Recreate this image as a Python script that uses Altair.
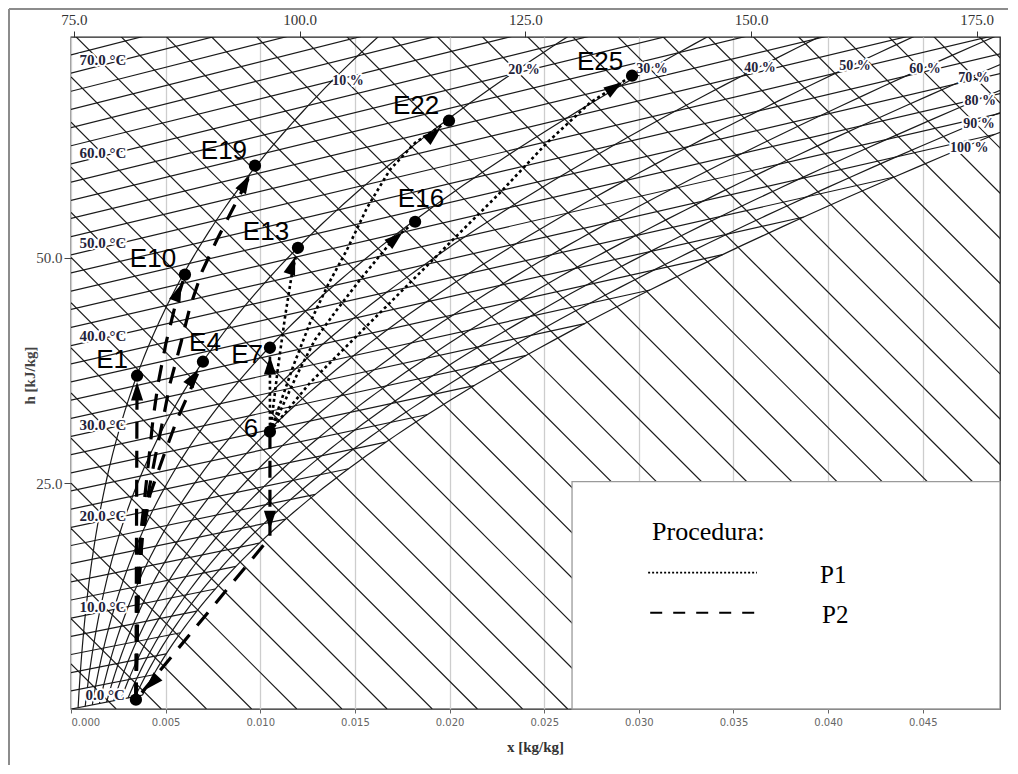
import math
import altair as alt
import pandas as pd

# ---------------- axis ranges / ticks ----------------
X_MAX = 0.04908                 # kg/kg at the right edge
Y_MAX = 74.42                   # kJ/kg at the top edge (left scale)
TOP_H = [74.67, 177.58]         # enthalpy scale along the top edge
X_TICKS = [0.0, 0.005, 0.010, 0.015, 0.020, 0.025, 0.030, 0.035, 0.040, 0.045]
Y_TICKS = [25.0, 50.0]
TOP_TICKS = [75.0, 100.0, 125.0, 150.0, 175.0]

# ---------------- h-x (Mollier) grid definition ----------------
K_SKEW = 2096.0                 # skew of the oblique enthalpy axis
P_ATM = 101.325
ISOTHERMS_C = list(range(0, 76, 2))
ISENTHALPS = list(range(5, 180, 5))
RH_LEVELS = [0.1, 0.2, 0.3, 0.4, 0.5, 0.6, 0.7, 0.8, 0.9, 1.0]

ISO_LABELS = ["70.0 °C", "60.0 °C", "50.0 °C", "40.0 °C", "30.0 °C", "20.0 °C", "10.0 °C", "0.0 °C"]
ISO_LABEL_X = [0.00169, 0.00169, 0.00169, 0.00169, 0.00169, 0.00169, 0.00169, 0.00180]
ISO_LABEL_Y = [71.9, 61.6, 51.63, 41.34, 31.49, 21.4, 11.33, 1.58]

RH_LABELS = ["10 %", "20 %", "30 %", "40 %", "50 %", "60 %", "70 %", "80 %", "90 %", "100 %"]
RH_LABEL_X = [0.01464, 0.02393, 0.0307, 0.0364, 0.04142, 0.04512, 0.04771, 0.04803, 0.04797, 0.04745]
RH_LABEL_Y = [69.57, 70.8, 70.91, 71.02, 71.24, 70.91, 69.91, 67.35, 64.81, 62.15]

# ---------------- state points ----------------
PT_NAMES = ["6", "E1", "E4", "E7", "E10", "E13", "E16", "E19", "E22", "E25", ""]
PT_X = [0.01051, 0.00349, 0.00697, 0.01051, 0.00602, 0.01199, 0.01818, 0.00972, 0.01997, 0.02964, 0.00343]
PT_Y = [30.71, 36.91, 38.46, 40.01, 48.1, 51.08, 53.96, 60.17, 65.15, 70.13, 1.03]
NAME_X = [0.00951, 0.00217, 0.00708, 0.0093, 0.00433, 0.0103, 0.01849, 0.00808, 0.01823, 0.02795]
NAME_Y = [31.04, 38.69, 40.56, 39.24, 49.87, 52.85, 56.5, 61.83, 66.8, 71.7]

# ---------------- process paths: P1 (dotted) ----------------
P1_E7_X = [0.01051, 0.01051]
P1_E7_Y = [30.71, 40.01]
P1_E13_X = [0.01051, 0.01062, 0.01094, 0.01131, 0.01168, 0.01199]
P1_E13_Y = [30.71, 32.37, 37.91, 43.44, 48.32, 51.08]
P1_E16_X = [0.01051, 0.01104, 0.01194, 0.01289, 0.01405, 0.01527, 0.01701, 0.01818]
P1_E16_Y = [30.71, 32.92, 37.02, 40.89, 44.22, 47.54, 51.97, 53.96]
P1_E22_X = [0.01051, 0.01094, 0.01173, 0.01263, 0.01358, 0.01458, 0.01564, 0.01685, 0.01818, 0.01997]
P1_E22_Y = [30.71, 33.15, 37.91, 42.78, 46.99, 50.86, 55.51, 59.72, 62.71, 65.15]
P1_E25_X = [0.01051, 0.01088, 0.01263, 0.0149, 0.01738, 0.02002, 0.02267, 0.02515, 0.02742, 0.02964]
P1_E25_Y = [30.71, 31.7, 36.13, 40.89, 46.1, 51.64, 57.18, 62.71, 67.14, 70.13]

# ---------------- process paths: P2 (dashed) ----------------
P2_COOL_X = [0.01051, 0.01051, 0.00343]
P2_COOL_Y = [30.71, 19.0, 1.03]
P2_E1_X = [0.00343, 0.00349]
P2_E1_Y = [1.03, 36.91]
P2_E4_X = [0.00343, 0.00354, 0.00375, 0.00417, 0.00486, 0.0056, 0.00697]
P2_E4_Y = [1.03, 12.1, 18.75, 23.73, 27.83, 32.04, 38.46]
P2_E10_X = [0.00343, 0.00349, 0.00365, 0.00391, 0.00412, 0.00433, 0.0046, 0.00502, 0.00549, 0.00602]
P2_E10_Y = [1.03, 12.1, 18.75, 23.73, 27.83, 32.04, 36.02, 40.56, 44.55, 48.1]
P2_E19_X = [0.00343, 0.00354, 0.00375, 0.00407, 0.00444, 0.00486, 0.00523, 0.00581, 0.00629,
            0.00692, 0.00771, 0.00861, 0.00972]
P2_E19_Y = [1.03, 12.1, 18.75, 23.73, 27.83, 32.04, 36.02, 40.56, 44.55, 48.43, 51.97, 55.65, 60.17]

# ---------------- arrow heads (position, and the point they aim at) ----------------
ARROW_X = [0.01051, 0.00428, 0.00349, 0.00645, 0.00565, 0.00919, 0.01051, 0.01168, 0.01712, 0.01913, 0.02869]
ARROW_Y = [20.97, 2.91, 35.14, 36.69, 46.1, 58.18, 38.02, 49.09, 52.08, 63.6, 68.8]
AIM_X = [0.01051, 0.00343, 0.00349, 0.00697, 0.00602, 0.00972, 0.01051, 0.01199, 0.01818, 0.01997, 0.02964]
AIM_Y = [19.0, 1.03, 36.91, 38.46, 48.1, 60.17, 40.01, 51.08, 53.96, 65.15, 70.13]

# ---------------- legend box ----------------
LEGEND_TITLE = "Procedura:"
LEGEND_NAMES = ["P1", "P2"]

# ================= layout =================
PLOT_W, PLOT_H = 929, 672
PX_X = PLOT_W / X_MAX
PX_Y = PLOT_H / Y_MAX


def p_sat(t):
    return 0.61094 * math.exp(17.625 * t / (t + 243.04))


def x_of(t, phi=1.0):
    pv = phi * p_sat(t)
    return 0.622 * pv / (P_ATM - pv)


def y_skew(t, x):
    return 1.006 * t + x * (2501.0 + 1.86 * t) - K_SKEW * x


grid = []
gid = 0
for t in ISOTHERMS_C:
    xs = min(x_of(t), 0.1)
    grid += [dict(g=gid, i=0, x=0.0, y=y_skew(t, 0.0)), dict(g=gid, i=1, x=xs, y=y_skew(t, xs))]
    gid += 1
for h in ISENTHALPS:
    grid += [dict(g=gid, i=0, x=0.0, y=float(h)), dict(g=gid, i=1, x=h / K_SKEW, y=0.0)]
    gid += 1
for phi in RH_LEVELS:
    i = 0
    t = 0.0
    while t <= 100:
        xv = x_of(t, phi)
        yv = y_skew(t, xv)
        grid.append(dict(g=gid, i=i, x=xv, y=yv))
        i += 1
        if xv > X_MAX + 0.002 or yv > Y_MAX + 3:
            break
        t += 0.5
    gid += 1
grid_df = pd.DataFrame(grid)


def path_rows(name, xs, ys):
    return [dict(p=name, i=i, x=a, y=b) for i, (a, b) in enumerate(zip(xs, ys))]


p1_df = pd.DataFrame(
    path_rows("E7", P1_E7_X, P1_E7_Y) + path_rows("E13", P1_E13_X, P1_E13_Y)
    + path_rows("E16", P1_E16_X, P1_E16_Y) + path_rows("E22", P1_E22_X, P1_E22_Y)
    + path_rows("E25", P1_E25_X, P1_E25_Y))
p2_df = pd.DataFrame(
    path_rows("cool", P2_COOL_X, P2_COOL_Y) + path_rows("E1", P2_E1_X, P2_E1_Y)
    + path_rows("E4", P2_E4_X, P2_E4_Y) + path_rows("E10", P2_E10_X, P2_E10_Y)
    + path_rows("E19", P2_E19_X, P2_E19_Y))

arrows = []
for ax, ay, tx, ty in zip(ARROW_X, ARROW_Y, AIM_X, AIM_Y):
    dxp = (tx - ax) * PX_X
    dyp = -(ty - ay) * PX_Y
    ang = math.degrees(math.atan2(dxp, -dyp)) % 360
    arrows.append(dict(x=ax, y=ay, ang=ang))
arrow_df = pd.DataFrame(arrows)

pt_df = pd.DataFrame(dict(x=PT_X, y=PT_Y))
name_df = pd.DataFrame(dict(x=NAME_X, y=NAME_Y, t=PT_NAMES[:len(NAME_X)]))
iso_df = pd.DataFrame(dict(x=ISO_LABEL_X, y=ISO_LABEL_Y, t=ISO_LABELS))
rh_df = pd.DataFrame(dict(x=RH_LABEL_X, y=RH_LABEL_Y, t=RH_LABELS))

box_df = pd.DataFrame(dict(x=[0.02647], x2=[X_MAX], y=[0.0], y2=[25.17]))
leg_title_df = pd.DataFrame(dict(x=[0.0307], y=[18.75], t=[LEGEND_TITLE]))
leg_name_df = pd.DataFrame(dict(x=[0.03957, 0.03968], y=[13.99, 9.56], t=LEGEND_NAMES))
leg_dot_df = pd.DataFrame(dict(x=[0.03049], x2=[0.03624], y=[15.1]))
leg_dash_df = pd.DataFrame(dict(x=[0.0306], x2=[0.0363], y=[10.66]))
one = pd.DataFrame(dict(a=[0]))

# ================= encodings =================
X_ENC = alt.X(
    "x:Q",
    scale=alt.Scale(domain=[0, X_MAX], nice=False, zero=False),
    axis=alt.Axis(values=X_TICKS, format=".3f", title="x [kg/kg]", grid=True,
                  gridColor="#cdcdcd", gridWidth=1.3, domain=False, tickSize=4,
                  tickColor="#666", labelFont="DejaVu Sans", labelFontSize=10,
                  labelColor="#666", labelPadding=4, titleFont="Liberation Serif",
                  titleFontSize=15, titleFontWeight="bold", titleColor="#333",
                  titleX=464, titleY=37, titleBaseline="middle"))
Y_ENC = alt.Y(
    "y:Q",
    scale=alt.Scale(domain=[0, Y_MAX], nice=False, zero=False),
    axis=alt.Axis(values=Y_TICKS, format=".1f", title="h [kJ/kg]", grid=False,
                  domain=False, tickSize=7, tickColor="#444", labelFont="Liberation Serif",
                  labelFontSize=15, labelColor="#444", labelPadding=2,
                  titleFont="Liberation Serif", titleFontSize=15, titleFontWeight="bold",
                  titleColor="#444", titleAngle=270, titleX=-42, titleY=338,
                  titleBaseline="middle", titleAlign="center"))

grid_layer = alt.Chart(grid_df).mark_line(clip=True, color="#1a1a1a", strokeWidth=1.2).encode(
    x=X_ENC, y=Y_ENC, detail="g:N", order="i:Q")

box_layer = alt.Chart(box_df).mark_rect(fill="white", stroke="#9a9a9a", strokeWidth=1.3).encode(
    x=X_ENC, x2="x2:Q", y=Y_ENC, y2="y2:Q")

iso_halo = alt.Chart(iso_df).mark_text(font="Liberation Serif", fontSize=15, fontWeight="bold",
                                       stroke="white", strokeWidth=4, strokeJoin="round").encode(
    x=X_ENC, y=Y_ENC, text="t:N")
iso_text = alt.Chart(iso_df).mark_text(font="Liberation Serif", fontSize=15, fontWeight="bold",
                                       color="#23233a").encode(x=X_ENC, y=Y_ENC, text="t:N")
rh_halo = alt.Chart(rh_df).mark_text(font="Liberation Serif", fontSize=14, fontWeight="bold",
                                     stroke="white", strokeWidth=4, strokeJoin="round").encode(
    x=X_ENC, y=Y_ENC, text="t:N")
rh_text = alt.Chart(rh_df).mark_text(font="Liberation Serif", fontSize=14, fontWeight="bold",
                                     color="#23233a").encode(x=X_ENC, y=Y_ENC, text="t:N")

p1_layer = alt.Chart(p1_df).mark_line(color="black", strokeWidth=2.6, strokeDash=[3, 3]).encode(
    x=X_ENC, y=Y_ENC, detail="p:N", order="i:Q")
p2_layer = alt.Chart(p2_df).mark_line(color="black", strokeWidth=3.2, strokeDash=[17, 12]).encode(
    x=X_ENC, y=Y_ENC, detail="p:N", order="i:Q")

arrow_layer = alt.Chart(arrow_df).mark_point(
    shape="M0,-1L0.62,0.9L-0.62,0.9Z", filled=True, size=380, color="black", opacity=1).encode(
    x=X_ENC, y=Y_ENC, angle=alt.Angle("ang:Q", scale=None))
dot_layer = alt.Chart(pt_df).mark_circle(size=150, color="black", opacity=1).encode(x=X_ENC, y=Y_ENC)
name_layer = alt.Chart(name_df).mark_text(font="Liberation Sans", fontSize=26, color="black").encode(
    x=X_ENC, y=Y_ENC, text="t:N")

leg_title = alt.Chart(leg_title_df).mark_text(font="Liberation Serif", fontSize=26, align="left",
                                              baseline="alphabetic", color="black").encode(
    x=X_ENC, y=Y_ENC, text="t:N")
leg_names = alt.Chart(leg_name_df).mark_text(font="Liberation Serif", fontSize=25, align="left",
                                             baseline="alphabetic", color="black").encode(
    x=X_ENC, y=Y_ENC, text="t:N")
leg_dot = alt.Chart(leg_dot_df).mark_rule(color="black", strokeWidth=1.6, strokeDash=[2, 2]).encode(
    x=X_ENC, x2="x2:Q", y=Y_ENC)
leg_dash = alt.Chart(leg_dash_df).mark_rule(color="black", strokeWidth=2, strokeDash=[12, 11]).encode(
    x=X_ENC, x2="x2:Q", y=Y_ENC)

frame_top = alt.Chart(one).mark_rule(color="#8c8c8c", strokeWidth=2).encode(
    x=alt.value(-62), x2=alt.value(937), y=alt.value(-28))
frame_left = alt.Chart(one).mark_rule(color="#8c8c8c", strokeWidth=2).encode(
    x=alt.value(-62), y=alt.value(-28), y2=alt.value(728))

inner = alt.layer(grid_layer, box_layer, iso_halo, iso_text, rh_halo, rh_text,
                  p1_layer, p2_layer, arrow_layer, dot_layer, name_layer,
                  leg_title, leg_names, leg_dot, leg_dash, frame_top, frame_left)

top_axis = alt.Chart(pd.DataFrame(dict(h=TOP_TICKS))).mark_point(opacity=0).encode(
    x=alt.X("h:Q", scale=alt.Scale(domain=TOP_H, nice=False, zero=False),
            axis=alt.Axis(orient="top", values=TOP_TICKS, format=".1f", title=None, grid=False,
                          domain=False, tickSize=6, tickColor="#333", labelFont="Liberation Serif",
                          labelFontSize=15, labelColor="#333", labelPadding=4)),
    y=alt.value(0))

chart = alt.layer(inner, top_axis).resolve_scale(x="independent").properties(
    width=PLOT_W, height=PLOT_H,
    autosize=alt.AutoSizeParams(type="none"),
    padding={"left": 63, "top": 29, "right": 8, "bottom": 56},
).configure_view(stroke="#222", strokeWidth=1.3)

chart.save("out.html", embed_options={"renderer": "svg", "actions": False})
